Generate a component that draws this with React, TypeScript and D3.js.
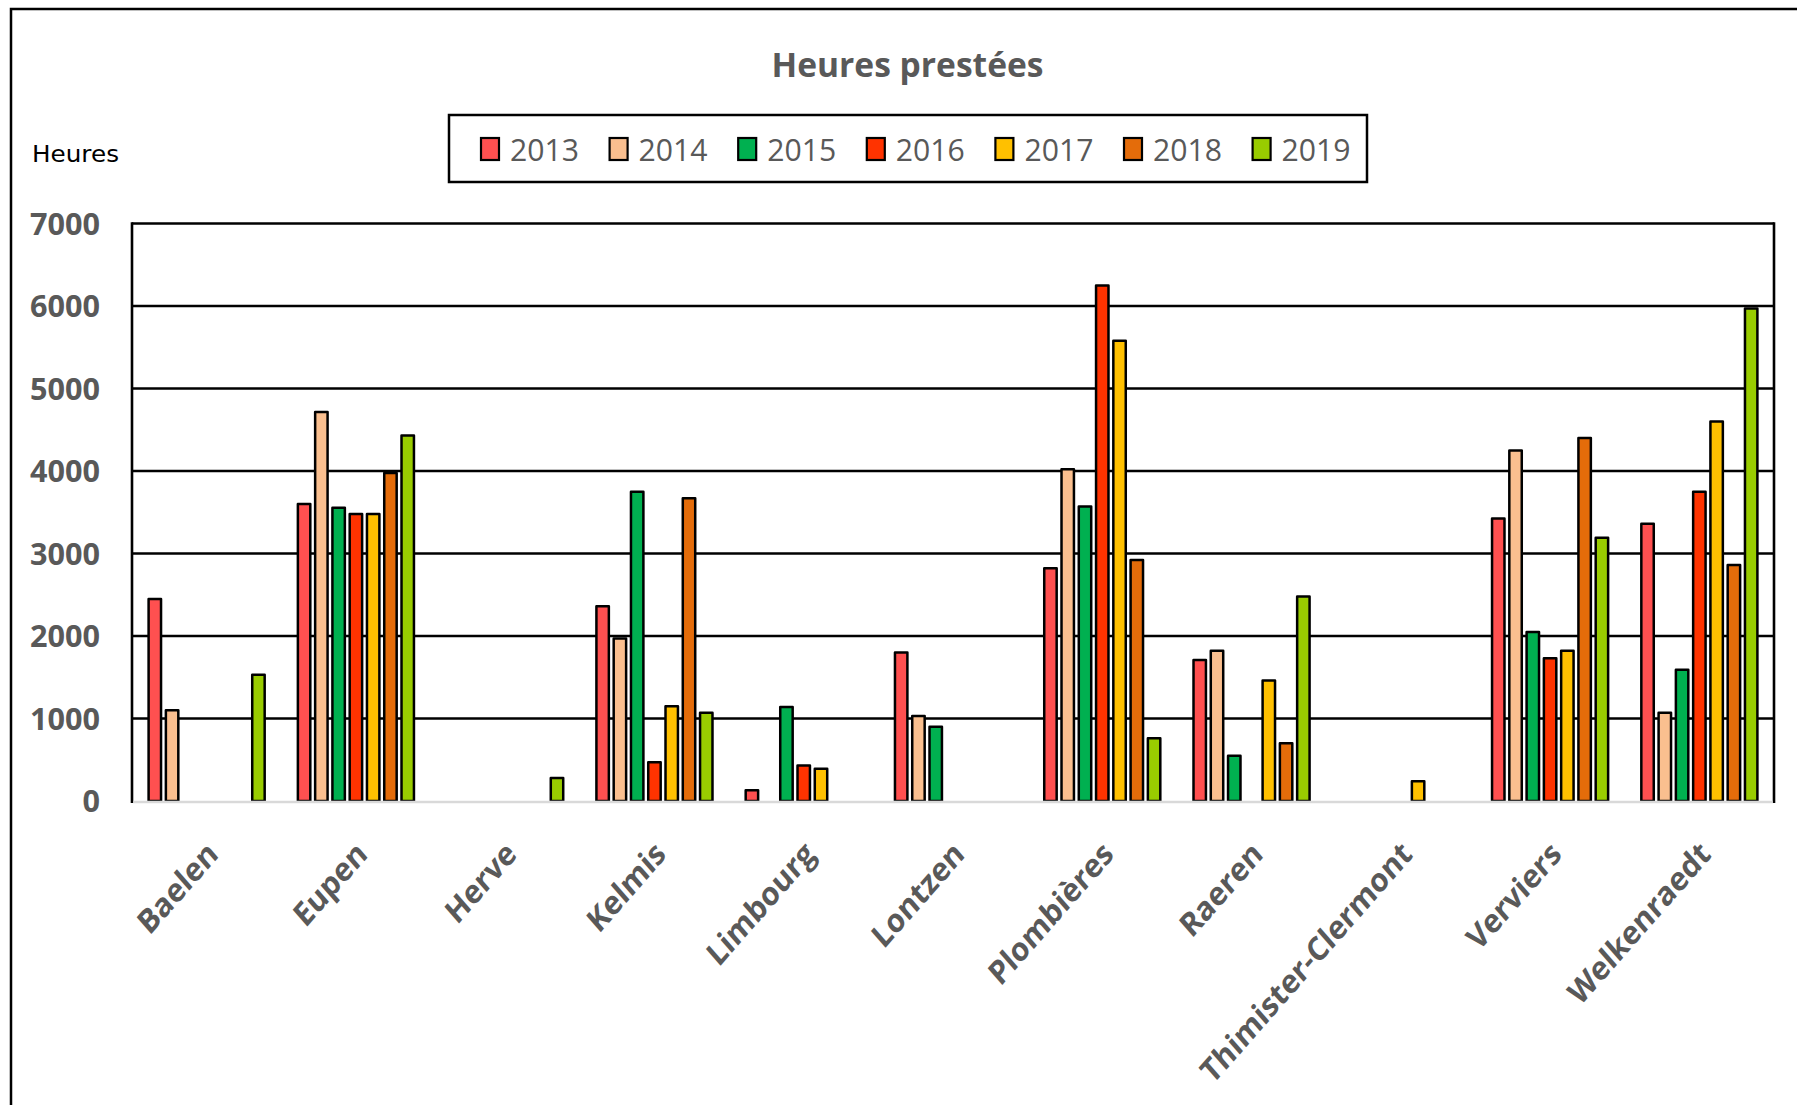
import * as d3 from "d3";

const communes = [
  "Baelen",
  "Eupen",
  "Herve",
  "Kelmis",
  "Limbourg",
  "Lontzen",
  "Plombières",
  "Raeren",
  "Thimister-Clermont",
  "Verviers",
  "Welkenraedt",
];

const years = ["2013", "2014", "2015", "2016", "2017", "2018", "2019"];

// hours per commune, one array per year (0 = no bar)
const h2013 = [2450, 3600, 0, 2360, 130, 1800, 2820, 1710, 0, 3425, 3360];
const h2014 = [1100, 4715, 0, 1970, 0, 1030, 4020, 1820, 0, 4250, 1070];
const h2015 = [0, 3555, 0, 3750, 1140, 900, 3570, 550, 0, 2050, 1590];
const h2016 = [0, 3480, 0, 470, 430, 0, 6250, 0, 0, 1730, 3750];
const h2017 = [0, 3480, 0, 1150, 390, 0, 5580, 1460, 240, 1820, 4600];
const h2018 = [0, 3975, 0, 3670, 0, 0, 2920, 700, 0, 4400, 2860];
const h2019 = [1530, 4430, 280, 1070, 0, 0, 760, 2480, 0, 3190, 5970];

const series = [h2013, h2014, h2015, h2016, h2017, h2018, h2019];

const yTicks = [0, 1000, 2000, 3000, 4000, 5000, 6000, 7000];

const COLORS = [
  "#FF5050", // 2013
  "#FABF8F", // 2014
  "#00B050", // 2015
  "#FF3300", // 2016
  "#FFC000", // 2017
  "#E46C0A", // 2018
  "#99CC00", // 2019
];

const W = 1797;
const H = 1105;
const plot = { left: 132, right: 1774, top: 223.5, bottom: 801 };
const GRAY = "#595959";
const FONT = "'Open Sans', 'DejaVu Sans', sans-serif";

export default function App() {
  const x0 = d3
    .scaleBand<string>()
    .domain(communes)
    .range([plot.left, plot.right])
    .paddingInner(0.19)
    .paddingOuter(0.095);

  const x1 = d3
    .scaleBand<string>()
    .domain(years)
    .range([0, x0.bandwidth()])
    .paddingInner(0.28)
    .paddingOuter(0.14);

  const y = d3.scaleLinear().domain([0, 7000]).range([plot.bottom, plot.top]);

  const legendX = d3
    .scaleLinear()
    .domain([0, years.length - 1])
    .range([481, 481 + 6 * 128.6]);

  return (
    <svg
      width={W}
      height={H}
      viewBox={`0 0 ${W} ${H}`}
      style={{ position: "absolute", left: 0, top: 0, display: "block", background: "#fff" }}
    >
      {/* outer chart border, cut off at right/bottom */}
      <rect x={11} y={9} width={W + 20} height={H + 20} fill="#fff" stroke="#000" strokeWidth={2.5} />

      <text
        x={907.5}
        y={77}
        textAnchor="middle"
        fontFamily={FONT}
        fontWeight={700}
        fontSize={34}
        fill={GRAY}
        textLength={272}
        lengthAdjust="spacingAndGlyphs"
      >
        Heures prestées
      </text>

      <text
        x={32}
        y={162}
        fontFamily="'DejaVu Sans', sans-serif"
        fontSize={23}
        fill="#000"
        textLength={87}
        lengthAdjust="spacingAndGlyphs"
      >
        Heures
      </text>

      {/* legend */}
      <rect x={449} y={115} width={918} height={67} fill="#fff" stroke="#000" strokeWidth={2.5} />
      {years.map((yr, i) => (
        <g key={yr}>
          <rect x={legendX(i)} y={138} width={18} height={22} fill={COLORS[i]} stroke="#000" strokeWidth={2.2} />
          <text
            x={legendX(i) + 29}
            y={161}
            fontFamily={FONT}
            fontSize={31}
            fill={GRAY}
            textLength={69}
            lengthAdjust="spacingAndGlyphs"
          >
            {yr}
          </text>
        </g>
      ))}

      {/* gridlines */}
      {yTicks
        .filter((t) => t > 0)
        .map((t) => (
          <line key={t} x1={plot.left} x2={plot.right} y1={y(t)} y2={y(t)} stroke="#000" strokeWidth={2.6} />
        ))}

      {/* y tick labels */}
      {yTicks.map((t) => (
        <text
          key={t}
          x={100}
          y={y(t)}
          dy="0.36em"
          textAnchor="end"
          fontFamily={FONT}
          fontWeight={700}
          fontSize={31}
          fill={GRAY}
          textLength={t === 0 ? 17.5 : 70}
          lengthAdjust="spacingAndGlyphs"
        >
          {t}
        </text>
      ))}

      {/* bars */}
      {communes.map((c, ci) => (
        <g key={c} transform={`translate(${x0(c)},0)`}>
          {years.map((yr, yi) => {
            const v = series[yi][ci];
            if (!v) return null;
            return (
              <rect
                key={yr}
                x={x1(yr)}
                y={y(v)}
                width={x1.bandwidth()}
                height={y(0) - y(v)}
                fill={COLORS[yi]}
                stroke="#000"
                strokeWidth={2.5}
                strokeLinejoin="round"
              />
            );
          })}
        </g>
      ))}

      {/* plot frame */}
      <line x1={plot.left} x2={plot.left} y1={plot.top - 1.3} y2={plot.bottom + 2} stroke="#000" strokeWidth={2.6} />
      <line x1={plot.right} x2={plot.right} y1={plot.top - 1.3} y2={plot.bottom + 2} stroke="#000" strokeWidth={2.6} />
      <line x1={plot.left + 1.3} x2={plot.right - 1.3} y1={plot.bottom + 1} y2={plot.bottom + 1} stroke="#d9d9d9" strokeWidth={2.5} />

      {/* category labels (slightly stretched vertically, as in the source) */}
      {communes.map((c) => {
        const cx = (x0(c) ?? 0) + x0.bandwidth() / 2 + 13;
        const cy = 856;
        return (
          <text
            key={c}
            transform={`translate(${cx},${cy}) scale(1,1.14) rotate(-45)`}
            textAnchor="end"
            fontFamily={FONT}
            fontWeight={700}
            fontSize={29}
            fill={GRAY}
          >
            {c}
          </text>
        );
      })}
    </svg>
  );
}
